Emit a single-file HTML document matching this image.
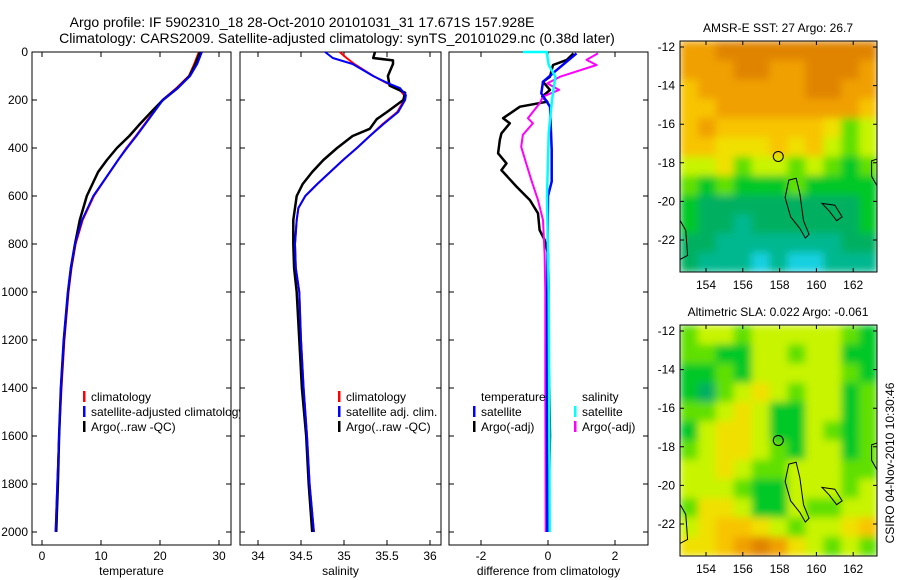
<!DOCTYPE html>
<html><head><meta charset="utf-8">
<style>
html,body{margin:0;padding:0;background:#fff;}
svg{display:block;font-family:"Liberation Sans",sans-serif;}
text{fill:#000;}
</style></head>
<body>
<svg id="fig" width="900" height="580" viewBox="0 0 900 580" xmlns="http://www.w3.org/2000/svg">
<defs>
<clipPath id="clip1"><rect x="32" y="52" width="208" height="494"/></clipPath>
<clipPath id="mclip0"><rect x="680" y="41" width="197" height="231"/></clipPath>
<clipPath id="mclip1"><rect x="680" y="325" width="197" height="231"/></clipPath>
<filter id="soft" x="-10%" y="-10%" width="120%" height="120%"><feGaussianBlur stdDeviation="4" edgeMode="duplicate"/></filter>
</defs>
<text x="302" y="27" font-size="14" text-anchor="middle">Argo profile: IF 5902310_18 28-Oct-2010 20101031_31 17.671S 157.928E</text>
<text x="337" y="43" font-size="14" text-anchor="middle">Climatology: CARS2009. Satellite-adjusted climatology: synTS_20101029.nc (0.38d later)</text>
<text x="778" y="32" font-size="12" text-anchor="middle">AMSR-E SST: 27 Argo: 26.7</text>
<text x="778" y="316" font-size="12" text-anchor="middle">Altimetric SLA: 0.022 Argo: -0.061</text>
<text transform="translate(894,463) rotate(-90)" font-size="12" text-anchor="middle">CSIRO 04-Nov-2010 10:30:46</text>
<text x="327" y="518" font-size="12">Coriolis</text>
<text x="327" y="532" font-size="12">PI: C.Maes</text>
<g id="g"></g>
</svg>
<script>
// ---- data ----
const depthT = [0,50,100,150,200,250,300,350,400,450,500,600,700,800,900,1000,1200,1400,1600,1800,2000];
const tempClim = [26.6,25.8,24.9,22.8,20.4,18.9,17.4,15.9,14.3,12.9,11.5,8.8,6.9,5.7,5.0,4.5,3.8,3.3,2.9,2.6,2.3];
const tempSat  = [27.1,26.3,25.1,23.0,20.5,19.0,17.5,16.0,14.4,12.9,11.5,8.7,6.8,5.6,4.9,4.4,3.7,3.2,2.9,2.6,2.3];
const tempArgo = [26.8,26.0,25.0,23.0,20.5,18.5,16.6,14.8,12.7,11.0,9.5,7.6,6.4,5.6,4.9,4.4,3.7,3.2,2.9,2.7,2.4];
const depthS = [0,25,50,100,130,150,180,200,250,300,350,400,450,500,550,600,650,700,800,900,1000,1200,1400,1600,1800,2000];
const salClim = [34.95,35.03,35.12,35.34,35.50,35.63,35.70,35.70,35.62,35.45,35.30,35.15,34.99,34.84,34.69,34.55,34.47,34.45,34.43,34.44,34.48,34.50,34.53,34.57,34.60,34.65];
const salSat  = [34.78,34.87,35.10,35.34,35.51,35.65,35.72,35.71,35.63,35.46,35.30,35.15,34.99,34.84,34.69,34.55,34.47,34.45,34.43,34.44,34.48,34.50,34.53,34.57,34.60,34.65];
const depthSA = [0,25,35,50,75,100,140,170,200,250,280,320,350,400,450,500,550,600,700,800,900,1000,1200,1400,1600,1800,2000];
const salArgo = [35.36,35.34,35.57,35.57,35.54,35.51,35.53,35.71,35.69,35.50,35.38,35.30,35.10,34.92,34.76,34.63,34.52,34.45,34.41,34.41,34.42,34.45,34.48,34.51,34.56,34.59,34.63];
const depthD1 = [6,33,54,103,124,158,186,207,228,276,297,339,367,422,464,492,561,617,672,742,783,839,1000,1200,1400,1600,1800,2000];
const diffTArgo = [0.76,0.56,0.15,0.06,-0.15,0.06,-0.17,-0.02,-0.84,-1.34,-1.14,-1.39,-1.44,-1.49,-1.24,-1.39,-0.94,-0.54,-0.30,-0.25,-0.10,0.0,0.02,0.0,0.04,0.06,0.03,0.02];
const depthD2 = [6,33,54,103,131,158,186,214,276,297,345,395,464,533,617,700,839,1000,1400,2000];
const diffSArgo = [1.49,1.15,1.45,0.36,-0.02,0.33,-0.15,-0.25,-0.60,-0.45,-0.75,-0.80,-0.65,-0.50,-0.30,-0.15,-0.10,-0.08,-0.08,-0.07];
const depthD3 = [6,40,82,124,172,228,408,540,600,1000,1500,2000];
const diffTSat = [0.85,0.56,0.20,-0.15,-0.20,0.06,0.11,0.11,0.0,-0.02,-0.03,-0.02];
const depthD4 = [0,0,54,103,200,339,600,1000,1500,2000];
const diffSSat = [-0.75,-0.04,0.02,0.22,0.12,0.02,-0.03,0.02,0.04,0.05];
const depthTicks = [0,200,400,600,800,1000,1200,1400,1600,1800,2000];
const tempTicks = [0,10,20,30];
const salTicks = [34,34.5,35,35.5,36];
const diffTicks = [-2,0,2];
const lonTicks = [154,156,158,160,162];
const latTicks = [-12,-14,-16,-18,-20,-22];
const sstGrid = [
"88999999999","88899889998","78888889988","77888888887","78777777645","77666767545",
"55645545434","43433343333","32222222223","32212222223","22111111122","21110100111"];
const slaGrid = [
"45545555543","44335545533","33435555543","32456545534","44565335534","35665335434",
"45665435534","55654455544","55543355545","46653354455","56776545567","66789865454"];
const palette = ["#18d0e0","#00b890","#00b060","#00c828","#60e000","#c8f400","#f0e000","#f8c400","#f0a000","#e08400"];

const NS="http://www.w3.org/2000/svg";
const G=document.getElementById('g');
function mk(tag,attrs,parent){const e=document.createElementNS(NS,tag);for(const k in attrs)e.setAttribute(k,attrs[k]);(parent||G).appendChild(e);return e;}
const yD = d => 52 + d*0.24;
const PB = 545;
const panels = [
 {x0:32,x1:231,sx:v=>42+v*5.9,ticks:tempTicks,label:'temperature',name:'temperature'},
 {x0:240,x1:441,sx:v=>258+(v-34)*86,ticks:salTicks,label:'salinity',name:'salinity'},
 {x0:449,x1:648,sx:v=>548+v*33.5,ticks:diffTicks,label:'difference from climatology',name:'difference'}
];
panels.forEach((p,i)=>{
  const bg=mk('rect',{x:p.x0,y:52,width:p.x1-p.x0,height:PB-52,fill:'#fff',stroke:'#000','stroke-width':1});
  
  
  p.ticks.forEach(t=>{
    const x=p.sx(t);
    const tk=mk('path',{d:`M${x},${PB}v-5M${x},52v5`,stroke:'#000','stroke-width':1});
    
    
    const tl=mk('text',{x:x,y:PB+15,'font-size':12,'text-anchor':'middle'});
    tl.textContent=String(t);
    
    
  });
  depthTicks.forEach(d=>{
    const y=yD(d);
    const tk=mk('path',{d:`M${p.x0},${y}h5M${p.x1},${y}h-5`,stroke:'#000','stroke-width':1});
    
    
    if(i===0){
      const tl=mk('text',{x:28,y:y+4,'font-size':12,'text-anchor':'end'});
      tl.textContent=String(d);
      
      
    }
  });
  const xl=mk('text',{x:(p.x0+p.x1)/2,y:575,'font-size':12,'text-anchor':'middle'});
  xl.textContent=p.label;
  
  
});
function line(p,depths,vals,color,w,name){
  const pts=depths.map((d,k)=>p.sx(vals[k]).toFixed(1)+','+yD(d).toFixed(1)).join(' ');
  const e=mk('polyline',{points:pts,fill:'none',stroke:color,'stroke-width':w,'stroke-linejoin':'round'});
  
  
}
line(panels[0],depthT,tempClim,'#f00',2,'temperature-climatology-line');
line(panels[0],depthT,tempArgo,'#000',2.5,'temperature-argo-line');
line(panels[0],depthT,tempSat,'#00f',2,'temperature-satellite-line');
line(panels[1],depthS,salClim,'#f00',2,'salinity-climatology-line');
line(panels[1],depthSA,salArgo,'#000',2.5,'salinity-argo-line');
line(panels[1],depthS,salSat,'#00f',2,'salinity-satellite-line');
line(panels[2],depthD1,diffTArgo,'#000',2.5,'diff-temperature-argo-line');
line(panels[2],depthD2,diffSArgo,'#f0f',2,'diff-salinity-argo-line');
line(panels[2],depthD3,diffTSat,'#00f',2.5,'diff-temperature-satellite-line');
line(panels[2],depthD4,diffSSat,'#0ff',2.5,'diff-salinity-satellite-line');

function legend(x,y,color,label,name,clip){
  const b=mk('rect',{x:x,y:y-6,width:2.5,height:11,fill:color});
  
  
  const t=mk('text',{x:x+8,y:y+4,'font-size':12});
  if(clip) t.setAttribute('clip-path','url(#clip1)');
  t.textContent=label;
  
  
}
legend(83,397,'#f00','climatology','legend-t-climatology',true);
legend(83,412,'#00f','satellite-adjusted climatology','legend-t-satellite',true);
legend(83,427,'#000','Argo(..raw -QC)','legend-t-argo',true);
legend(338,397,'#f00','climatology','legend-s-climatology');
legend(338,412,'#00f','satellite adj. clim.','legend-s-satellite');
legend(338,427,'#000','Argo(..raw -QC)','legend-s-argo');
const h1=mk('text',{x:481,y:401,'font-size':12});
h1.textContent='temperature';


const h2=mk('text',{x:582,y:401,'font-size':12});
h2.textContent='salinity';


legend(473,412,'#00f','satellite','legend-d-temp-satellite');
legend(473,427,'#000','Argo(-adj)','legend-d-temp-argo');
legend(574,412,'#0ff','satellite','legend-d-sal-satellite');
legend(574,427,'#f0f','Argo(-adj)','legend-d-sal-argo');

// ---- maps ----
const MX0=680, MX1=877, lonX = lon => 706 + (lon-154)*18.4;
function drawMap(grid,top,name,idx){
  const y0=top, y1=top+231, latY = lat => top+6 + (-12-lat)*19.3;
  const rows=grid.length, cols=grid[0].length;
  const cw=(MX1-MX0)/cols, ch=(y1-y0)/rows;
  const clipG=mk('g',{'clip-path':`url(#mclip${idx})`});
  
  
  const cg=mk('g',{filter:'url(#soft)'},clipG);
  
  
  for(let r=0;r<rows;r++)for(let c=0;c<cols;c++){
    const cell=mk('rect',{x:(MX0+c*cw).toFixed(2),y:(y0+r*ch).toFixed(2),width:(cw+0.6).toFixed(2),height:(ch+0.6).toFixed(2),fill:palette[+grid[r][c]]},cg);
    
    
  }
  const isl=mk('path',{d:`M${lonX(158.5)},${latY(-18.9)} L${lonX(158.9)},${latY(-18.8)} L${lonX(159.1)},${latY(-19.6)} L${lonX(159.3)},${latY(-21.0)} L${lonX(159.6)},${latY(-21.7)} L${lonX(159.4)},${latY(-21.9)} L${lonX(159.1)},${latY(-21.4)} L${lonX(158.6)},${latY(-20.8)} L${lonX(158.3)},${latY(-19.8)} Z M${lonX(160.3)},${latY(-20.1)} L${lonX(161.0)},${latY(-20.2)} L${lonX(161.4)},${latY(-20.8)} L${lonX(161.1)},${latY(-21.0)} L${lonX(160.7)},${latY(-20.5)} Z M${lonX(152.6)},${latY(-21.0)} L${lonX(152.9)},${latY(-21.5)} L${lonX(153.0)},${latY(-22.8)} L${lonX(152.6)},${latY(-23.0)} M${lonX(163.3)},${latY(-17.8)} L${lonX(163.0)},${latY(-17.9)} L${lonX(163.0)},${latY(-18.7)} L${lonX(163.3)},${latY(-19.2)}`,fill:'none',stroke:'#000','stroke-width':1});
  
  
  const fr=mk('rect',{x:MX0,y:y0,width:MX1-MX0,height:y1-y0,fill:'none',stroke:'#000','stroke-width':1});
  
  
  const mk1=mk('circle',{cx:lonX(157.928),cy:latY(-17.671),r:5,fill:'none',stroke:'#000','stroke-width':1});
  
  
  lonTicks.forEach(l=>{
    const x=lonX(l);
    const tk=mk('path',{d:`M${x},${y1}v-4M${x},${y0}v4`,stroke:'#000'});
    
    
    const t=mk('text',{x:x,y:y1+17,'font-size':12,'text-anchor':'middle'});
    t.textContent=String(l);
    
    
  });
  latTicks.forEach(l=>{
    const y=latY(l);
    const tk=mk('path',{d:`M${MX0},${y}h4M${MX1},${y}h-4`,stroke:'#000'});
    
    
    const t=mk('text',{x:675,y:y+4,'font-size':12,'text-anchor':'end'});
    t.textContent=String(l);
    
    
  });
}
drawMap(sstGrid,41,'sst-map',0);
drawMap(slaGrid,325,'sla-map',1);
</script>
</body></html>
